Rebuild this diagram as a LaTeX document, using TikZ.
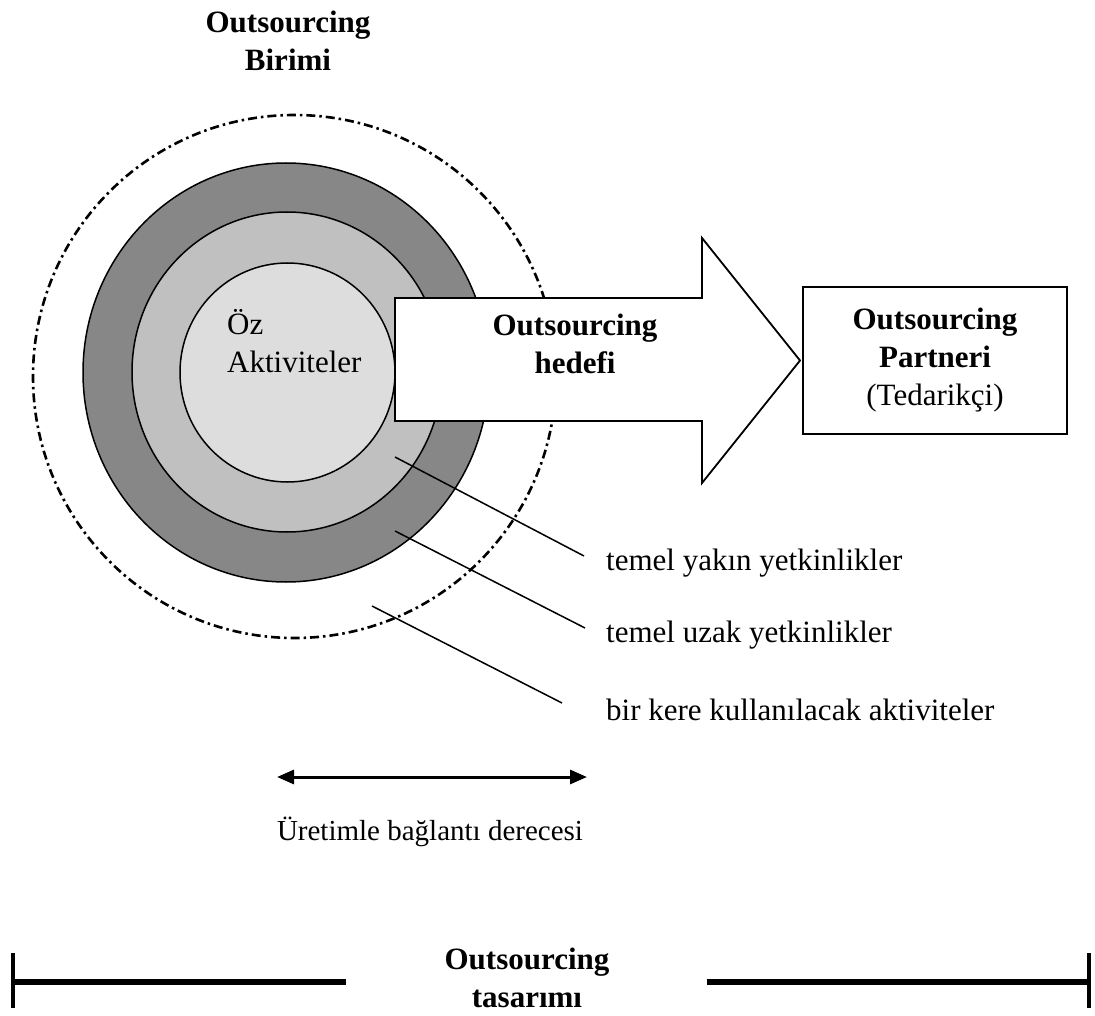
\documentclass[tikz,border=0pt]{standalone}
\usepackage{fontspec}
\setmainfont{Liberation Serif}
\usetikzlibrary{arrows.meta}
\definecolor{ringdark}{HTML}{878787}
\definecolor{ringmid}{HTML}{C0C0C0}
\definecolor{ringcore}{HTML}{DDDDDD}
\begin{document}
\begin{tikzpicture}[x=1pt,y=-1pt,
  big/.style={font=\fontsize{31}{38}\selectfont, inner sep=0pt, align=center},
  bigbold/.style={big, font=\fontsize{31}{38}\selectfont\bfseries},
  lbl/.style={font=\fontsize{31}{38}\selectfont, inner sep=0pt, anchor=west},
  ring/.style={draw=black, line width=1.5pt},
  leader/.style={draw=black, line width=1.5pt},
  outerzone/.style={draw=black, line width=2.6pt, dash pattern=on 9pt off 4pt on 2.5pt off 4pt}]
\useasboundingbox (0,0) rectangle (1095,1016);

% title of the unit
\node[bigbold] (unit) at (288,41) {Outsourcing\\Birimi};

% outer zone and the three activity rings
\draw[outerzone] (294.5,376.5) ellipse [x radius=261.5pt, y radius=261.5pt];
\draw[ring, fill=ringdark] (286,372.5) ellipse [x radius=203pt, y radius=209.5pt];
\draw[ring, fill=ringmid] (287,372) ellipse [x radius=155pt, y radius=160pt];
\draw[ring, fill=ringcore] (287.5,372.5) ellipse [x radius=107.5pt, y radius=109.5pt];
\node[big, align=left, anchor=west] (core) at (227,341) {Öz\\Aktiviteler};

% big block arrow towards the partner
\draw[line width=1.8pt, fill=white, line join=miter]
  (395,298) -- (702,298) -- (702,238) -- (800,360.5) -- (702,483) -- (702,421) -- (395,421) -- cycle;
\node[bigbold] (target) at (575,344) {Outsourcing\\hedefi};

% partner box
\node[draw=black, line width=2.2pt, minimum width=264pt, minimum height=147pt,
      inner sep=0pt, align=center, font=\fontsize{31}{38}\selectfont] (partner) at (935,360.5)
  {\textbf{Outsourcing}\\\textbf{Partneri}\\(Tedarikçi)};

% leader lines and their labels
\coordinate (yk0) at (395,457); \coordinate (yk1) at (584,556);
\coordinate (uz0) at (395,531); \coordinate (uz1) at (585,628);
\coordinate (bk0) at (372,606); \coordinate (bk1) at (562,703);
\draw[leader] (yk0) -- (yk1);
\draw[leader] (uz0) -- (uz1);
\draw[leader] (bk0) -- (bk1);
\node[lbl] (yakin) at (606,563) {temel yakın yetkinlikler};
\node[lbl] (uzak) at (606,635) {temel uzak yetkinlikler};
\node[lbl] (birkere) at (606,710) {bir kere kullanılacak aktiviteler};

% degree of connection with production
\coordinate (degL) at (277,777); \coordinate (degR) at (587,777);
\draw[line width=3pt, {Triangle[length=17pt,width=14pt]}-{Triangle[length=17pt,width=14pt]}] (degL) -- (degR);
\node[font=\fontsize{29}{34}\selectfont, inner sep=0pt] (degree) at (430,832) {Üretimle bağlantı derecesi};

% outsourcing design span
\node[font=\fontsize{31}{38}\selectfont\bfseries, inner sep=0pt, align=center] (design) at (527,978) {Outsourcing\\tasarımı};
\coordinate (barL) at (13,982); \coordinate (barLe) at (346,982);
\coordinate (barRs) at (707,982); \coordinate (barR) at (1089,982);
\draw[line width=6pt] (barL) -- (barLe);
\draw[line width=6pt] (barRs) -- (barR);
\draw[line width=4.5pt] (barL) ++(0,-29) -- ++(0,55);
\draw[line width=4.5pt] (barR) ++(0,-29) -- ++(0,55);
\end{tikzpicture}
\end{document}
